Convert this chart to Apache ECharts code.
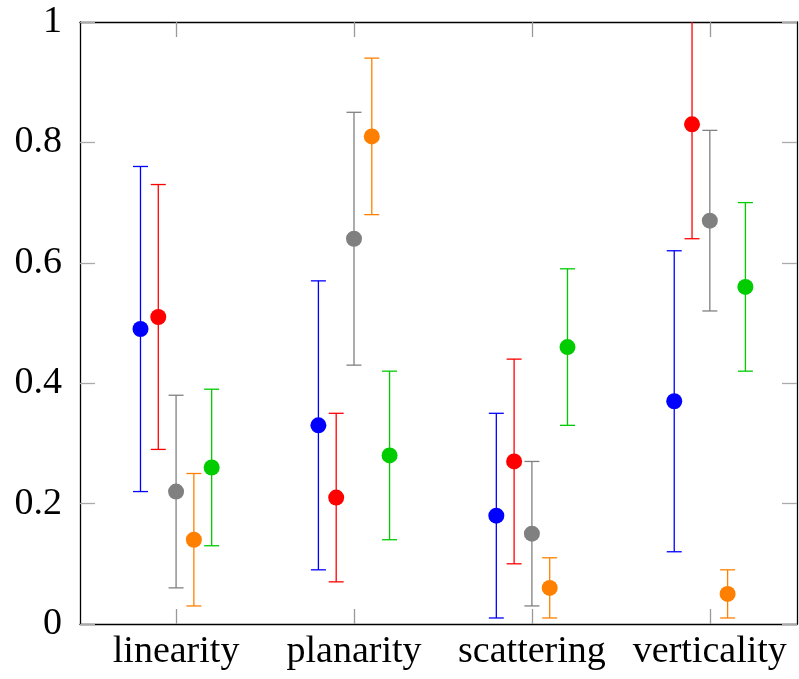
<!DOCTYPE html>
<html><head><meta charset="utf-8">
<script src="https://cdn.jsdelivr.net/npm/echarts@6/dist/echarts.min.js"></script>
<style>html,body{margin:0;padding:0;background:#fff}#c{width:799px;height:679px}</style>
</head><body><div id="c"></div>
<script>
const categories = ['linearity','planarity','scattering','verticality'];
const yTicks = [0, 0.2, 0.4, 0.6, 0.8, 1];

const blueMean = [0.49, 0.33, 0.18, 0.37];
const blueLow  = [0.22, 0.09, 0.01, 0.12];
const blueHigh = [0.76, 0.57, 0.35, 0.62];

const redMean = [0.51, 0.21, 0.27, 0.83];
const redLow  = [0.29, 0.07, 0.10, 0.64];
const redHigh = [0.73, 0.35, 0.44, 1.02];

const grayMean = [0.22, 0.64, 0.15, 0.67];
const grayLow  = [0.06, 0.43, 0.03, 0.52];
const grayHigh = [0.38, 0.85, 0.27, 0.82];

const orangeMean = [0.14, 0.81, 0.06, 0.05];
const orangeLow  = [0.03, 0.68, 0.01, 0.01];
const orangeHigh = [0.25, 0.94, 0.11, 0.09];

const greenMean = [0.26, 0.28, 0.46, 0.56];
const greenLow  = [0.13, 0.14, 0.33, 0.42];
const greenHigh = [0.39, 0.42, 0.59, 0.70];

const groups = [
  {color:'#0000ff', mean:blueMean, low:blueLow, high:blueHigh, off:-0.2},
  {color:'#ff0000', mean:redMean, low:redLow, high:redHigh, off:-0.1},
  {color:'#808080', mean:grayMean, low:grayLow, high:grayHigh, off:0},
  {color:'#ff8000', mean:orangeMean, low:orangeLow, high:orangeHigh, off:0.1},
  {color:'#00cc00', mean:greenMean, low:greenLow, high:greenHigh, off:0.2}
];

const FONT = 'Liberation Serif';
const FS = 38;
const tickIdx = categories.map((c,i)=>i);
const series = [];
groups.forEach(g => {
  const errData = g.mean.map((m,i)=>[i+g.off, g.low[i], g.high[i]]);
  series.push({
    type:'custom', clip:true, silent:true,
    data: errData,
    renderItem: (params, api) => {
      const x = api.value(0);
      const lo = api.coord([x, api.value(1)]);
      const hi = api.coord([x, api.value(2)]);
      const w = 7.5;
      const st = {stroke:g.color, lineWidth:1.3, fill:null};
      return {type:'group', children:[
        {type:'line', shape:{x1:lo[0],y1:lo[1],x2:hi[0],y2:hi[1]}, style:st},
        {type:'line', shape:{x1:lo[0]-w,y1:lo[1],x2:lo[0]+w,y2:lo[1]}, style:st},
        {type:'line', shape:{x1:hi[0]-w,y1:hi[1],x2:hi[0]+w,y2:hi[1]}, style:st}
      ]};
    },
    encode:{x:0, y:[1,2]}
  });
  series.push({
    type:'scatter', silent:true, symbol:'circle', symbolSize:16,
    itemStyle:{color:g.color, opacity:1},
    data: g.mean.map((m,i)=>[i+g.off, m])
  });
});

const chart = echarts.init(document.getElementById('c'));
chart.setOption({
  animation:false,
  backgroundColor:'#fff',
  grid:{left:80, right:2, top:22, bottom:55},
  xAxis:[
    {type:'value', min:-0.54, max:3.49, position:'bottom',
     axisLine:{show:true, onZero:false, lineStyle:{color:'#000', width:1.3}},
     axisTick:{show:true, inside:true, length:15, customValues:tickIdx, lineStyle:{color:'#999', width:1.3}},
     axisLabel:{show:true, customValues:tickIdx, formatter:v=>categories[Math.round(v)] || '', fontFamily:FONT, fontSize:FS, color:'#000', margin:9},
     splitLine:{show:false}},
    {type:'value', min:-0.54, max:3.49, position:'top',
     axisLine:{show:true, onZero:false, lineStyle:{color:'#000', width:1.3}},
     axisTick:{show:true, inside:true, length:15, customValues:tickIdx, lineStyle:{color:'#999', width:1.3}},
     axisLabel:{show:false}, splitLine:{show:false}}
  ],
  yAxis:[
    {type:'value', min:0, max:1, interval:0.2, position:'left',
     axisLine:{show:true, onZero:false, lineStyle:{color:'#000', width:1.3}},
     axisTick:{show:true, inside:true, length:15, lineStyle:{color:'#aaa', width:1.3}},
     axisLabel:{show:true, fontFamily:FONT, fontSize:FS, color:'#000', margin:18, formatter:v=>String(Math.round(v*10)/10)},
     splitLine:{show:false}},
    {type:'value', min:0, max:1, interval:0.2, position:'right',
     axisLine:{show:true, onZero:false, lineStyle:{color:'#000', width:1.3}},
     axisTick:{show:true, inside:true, length:15, lineStyle:{color:'#aaa', width:1.3}},
     axisLabel:{show:false}, splitLine:{show:false}}
  ],
  series: series
});
</script></body></html>
